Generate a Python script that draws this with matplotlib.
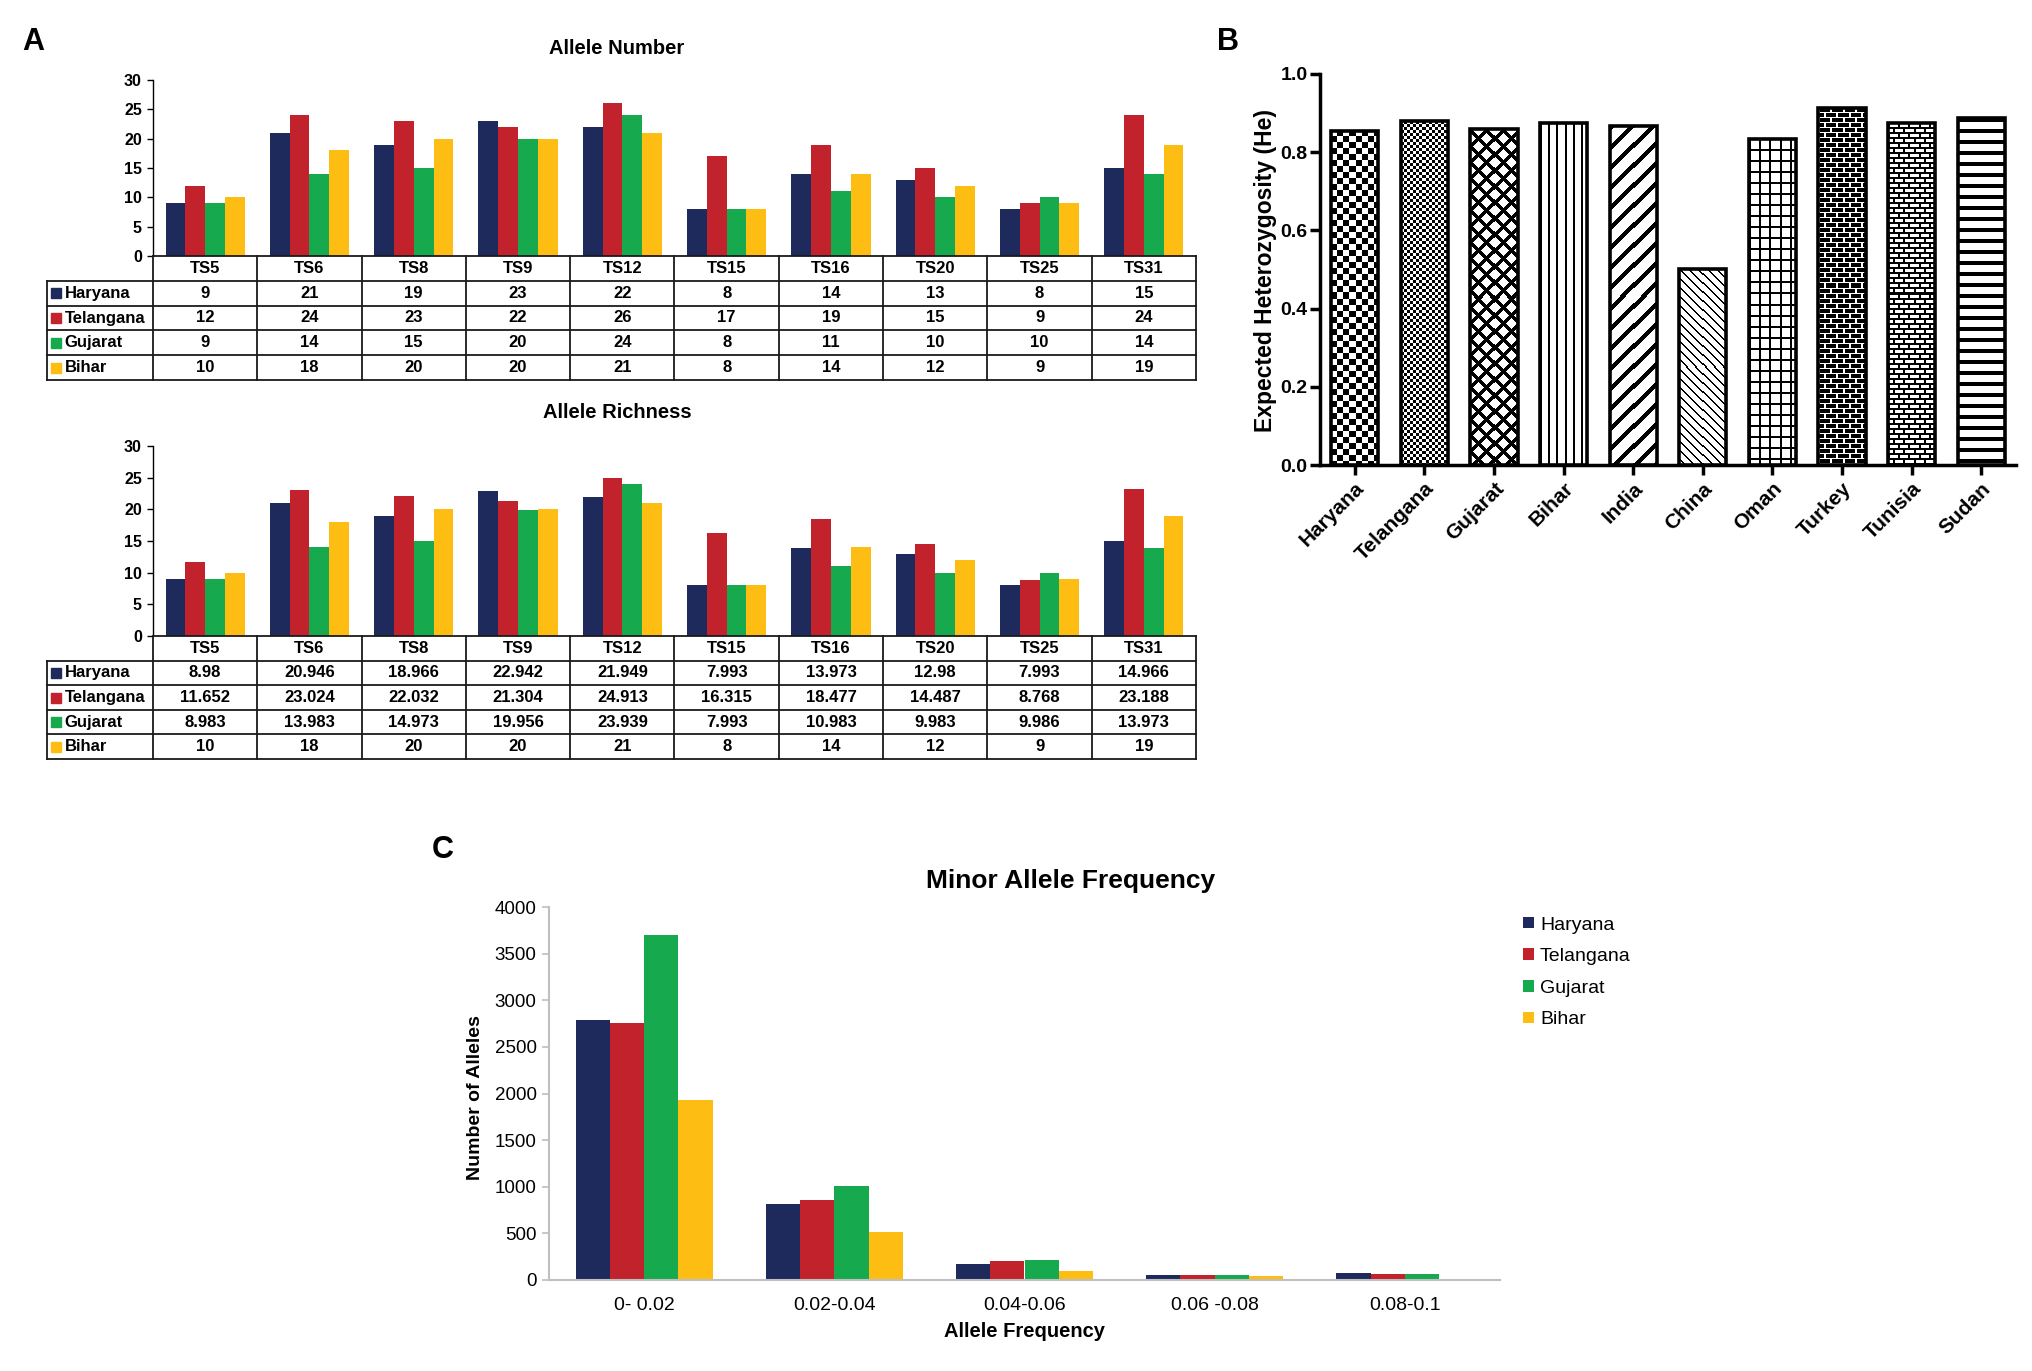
import numpy as np
import matplotlib
matplotlib.use("Agg")
import matplotlib.pyplot as plt

plt.rcParams['font.family'] = ['Liberation Sans', 'DejaVu Sans']

# --- data ---
markers = ["TS5", "TS6", "TS8", "TS9", "TS12", "TS15", "TS16", "TS20", "TS25", "TS31"]
states = ["Haryana", "Telangana", "Gujarat", "Bihar"]

an_haryana = [9, 21, 19, 23, 22, 8, 14, 13, 8, 15]
an_telangana = [12, 24, 23, 22, 26, 17, 19, 15, 9, 24]
an_gujarat = [9, 14, 15, 20, 24, 8, 11, 10, 10, 14]
an_bihar = [10, 18, 20, 20, 21, 8, 14, 12, 9, 19]

ar_haryana = [8.98, 20.946, 18.966, 22.942, 21.949, 7.993, 13.973, 12.98, 7.993, 14.966]
ar_telangana = [11.652, 23.024, 22.032, 21.304, 24.913, 16.315, 18.477, 14.487, 8.768, 23.188]
ar_gujarat = [8.983, 13.983, 14.973, 19.956, 23.939, 7.993, 10.983, 9.983, 9.986, 13.973]
ar_bihar = [10, 18, 20, 20, 21, 8, 14, 12, 9, 19]

he_pops = ["Haryana", "Telangana", "Gujarat", "Bihar", "India",
           "China", "Oman", "Turkey", "Tunisia", "Sudan"]
he_values = [0.855, 0.879, 0.860, 0.875, 0.868, 0.502, 0.835, 0.914, 0.875, 0.887]

maf_bins = ["0- 0.02", "0.02-0.04", "0.04-0.06", "0.06 -0.08", "0.08-0.1"]
maf_haryana = [2790, 810, 170, 53, 76]
maf_telangana = [2755, 855, 200, 53, 68]
maf_gujarat = [3695, 1003, 212, 53, 60]
maf_bihar = [1930, 510, 98, 38, 4]

colors = ["#1f2a5c", "#c1222b", "#16a94d", "#fdbd12"]

W, H = 2033, 1371


def box(x0, y0, x1, y1):
    return [x0 / W, 1 - y1 / H, (x1 - x0) / W, (y1 - y0) / H]


fig = plt.figure(figsize=(W / 100, H / 100), dpi=100)


# --- panel A: bars + data table ---
def panel_a(bar_box, tab_box, series, title, title_y):
    ax = fig.add_axes(box(*bar_box))
    x = np.arange(len(markers))
    bw = 0.19
    for i, vals in enumerate(series):
        ax.bar(x + (i - 1.5) * bw, vals, bw, color=colors[i], edgecolor='none')
    ax.set_xlim(-0.5, len(markers) - 0.5)
    ax.set_ylim(0, 30)
    ax.set_yticks(range(0, 31, 5))
    for s in ['top', 'right', 'bottom']:
        ax.spines[s].set_visible(False)
    ax.spines['left'].set_linewidth(1.0)
    ax.tick_params(axis='x', length=0, labelbottom=False)
    ax.tick_params(axis='y', length=4, width=1, labelsize=11.5, pad=4)
    for lab in ax.get_yticklabels():
        lab.set_fontweight('bold')

    tax = fig.add_axes(box(*tab_box))
    lab_w = 1.016
    left = -0.5 - lab_w
    tax.set_xlim(left, len(markers) - 0.5)
    tax.set_ylim(5, 0)
    tax.axis('off')
    lk = dict(color='#1a1a1a', lw=1.3, clip_on=False, solid_capstyle='projecting')
    tax.plot([-0.5, len(markers) - 0.5], [0, 0], **lk)
    for r in range(1, 6):
        tax.plot([left, len(markers) - 0.5], [r, r], **lk)
    for k in range(len(markers) + 1):
        tax.plot([k - 0.5, k - 0.5], [0, 5], **lk)
    tax.plot([left, left], [1, 5], **lk)
    for j, m in enumerate(markers):
        tax.text(j, 0.5, m, ha='center', va='center', fontsize=12, fontweight='bold')
    for i, (name, vals) in enumerate(zip(states, series)):
        yy = i + 1.5
        tax.plot(left + 0.085, yy, 's', color=colors[i], ms=6.5, clip_on=False)
        tax.text(left + 0.17, yy, name, ha='left', va='center', fontsize=12, fontweight='bold')
        for j, v in enumerate(vals):
            tax.text(j, yy, f"{v:g}", ha='center', va='center', fontsize=12, fontweight='bold')

    fig.text(617 / W, 1 - title_y / H, title,
             ha='center', va='center', fontsize=14.5, fontweight='bold')


panel_a((153, 80, 1196, 256), (47, 256, 1196, 380),
        [an_haryana, an_telangana, an_gujarat, an_bihar], "Allele Number", 48)
panel_a((153, 446, 1196, 636), (47, 636, 1196, 759),
        [ar_haryana, ar_telangana, ar_gujarat, ar_bihar], "Allele Richness", 413)


# --- panel B: patterned bars ---
def pattern(kind, h, w):
    r, c = np.mgrid[0:h, 0:w]
    if kind == 'checker':
        black = (r // 6 + c // 6) % 2 == 1
    elif kind == 'finechecker':
        black = (r // 3 + c // 3) % 2 == 1
    elif kind == 'diamond':
        black = ((r + c) % 16 < 5) | ((r - c) % 16 < 5)
    elif kind == 'vlines':
        black = c % 8 < 2
    elif kind == 'diag':
        black = (r + c) % 20 < 6
    elif kind == 'backdiag':
        black = (r - c) % 9 < 2
    elif kind == 'grid':
        black = (r % 11 < 2) | (c % 10 < 2)
    elif kind == 'darkbrick':
        row = r // 5
        mortar = (r % 5 == 0) | ((c + (row % 2) * 6) % 12 < 2)
        black = ~mortar
    elif kind == 'lightbrick':
        row = r // 5
        black = (r % 5 < 2) | ((c + (row % 2) * 5) % 10 < 2)
    elif kind == 'hstripes':
        black = r % 11 < 4
    else:
        black = np.zeros_like(r, dtype=bool)
    return np.where(black, 0.0, 1.0)


fills = ['checker', 'finechecker', 'diamond', 'vlines', 'diag',
         'backdiag', 'grid', 'darkbrick', 'lightbrick', 'hstripes']

axb = fig.add_axes(box(1320, 74, 2016, 465))
axb.set_xlim(-0.5, len(he_pops) - 0.5)
axb.set_ylim(0, 1.0)
axb.set_autoscale_on(False)
for i, (pop, val) in enumerate(zip(he_pops, he_values)):
    bar = axb.bar(i, val, 0.68, facecolor='none', edgecolor='black',
                  linewidth=2.6, zorder=4)[0]
    bb = bar.get_window_extent()
    hp, wp = max(int(round(bb.height)), 1), max(int(round(bb.width)), 1)
    im = axb.imshow(pattern(fills[i], hp, wp), cmap='gray', vmin=0, vmax=1,
                    extent=(bar.get_x(), bar.get_x() + bar.get_width(), 0, bar.get_height()),
                    interpolation='nearest', aspect='auto', zorder=3)
    im.set_clip_path(bar)
axb.set_xlim(-0.5, len(he_pops) - 0.5)
axb.set_ylim(0, 1.0)
for s in ['top', 'right']:
    axb.spines[s].set_visible(False)
for s in ['left', 'bottom']:
    axb.spines[s].set_linewidth(2.5)
axb.set_yticks(np.arange(0, 1.01, 0.2))
axb.set_yticklabels([f"{t:.1f}" for t in np.arange(0, 1.01, 0.2)],
                    fontsize=14, fontweight='bold')
axb.set_xticks(range(len(he_pops)))
axb.set_xticklabels(he_pops, rotation=45, ha='right', va='top',
                    rotation_mode='anchor', fontsize=15, fontweight='bold')
axb.tick_params(axis='both', width=2.5, length=7, direction='out')
axb.tick_params(axis='y', pad=2)
axb.tick_params(axis='x', pad=3)
fig.text(1266 / W, 1 - 270 / H, "Expected Heterozygosity (He)", rotation=90,
         ha='center', va='center', fontsize=16.5, fontweight='bold')


# --- panel C: minor allele frequency ---
axc = fig.add_axes(box(549, 907, 1500, 1280))
xc = np.arange(len(maf_bins))
bwc = 0.18
for i, vals in enumerate([maf_haryana, maf_telangana, maf_gujarat, maf_bihar]):
    axc.bar(xc + (i - 1.5) * bwc, vals, bwc, color=colors[i], edgecolor='none',
            label=states[i])
axc.set_xlim(-0.5, len(maf_bins) - 0.5)
axc.set_ylim(0, 4000)
axc.set_yticks(range(0, 4001, 500))
axc.set_xticks(xc)
axc.set_xticklabels(maf_bins)
for s in ['top', 'right']:
    axc.spines[s].set_visible(False)
for s in ['left', 'bottom']:
    axc.spines[s].set_color('#bfbfbf')
    axc.spines[s].set_linewidth(1.5)
axc.tick_params(axis='y', length=5, width=1.2, color='#bfbfbf', labelsize=13.5, pad=4)
axc.tick_params(axis='x', length=0, labelsize=14, pad=12)
axc.set_xlabel("Allele Frequency", fontsize=14.5, fontweight='bold', labelpad=6)
fig.text(476 / W, 1 - 1098 / H, "Number of Alleles", rotation=90,
         ha='center', va='center', fontsize=14, fontweight='bold')
fig.text(1071 / W, 1 - 881 / H, "Minor Allele Frequency",
         ha='center', va='center', fontsize=19, fontweight='bold')
fig.legend(*axc.get_legend_handles_labels(), loc='upper left',
           bbox_to_anchor=(1506 / W, 1 - 899 / H), frameon=False, fontsize=14,
           handlelength=0.55, handleheight=0.55, handletextpad=0.3, labelspacing=0.75)

# panel letters
fig.text(33 / W, 1 - 42 / H, "A", ha='center', va='center', fontsize=22, fontweight='bold')
fig.text(1228 / W, 1 - 42 / H, "B", ha='center', va='center', fontsize=22, fontweight='bold')
fig.text(443 / W, 1 - 850 / H, "C", ha='center', va='center', fontsize=22, fontweight='bold')

fig.savefig("out.png", dpi=100, facecolor='white')
